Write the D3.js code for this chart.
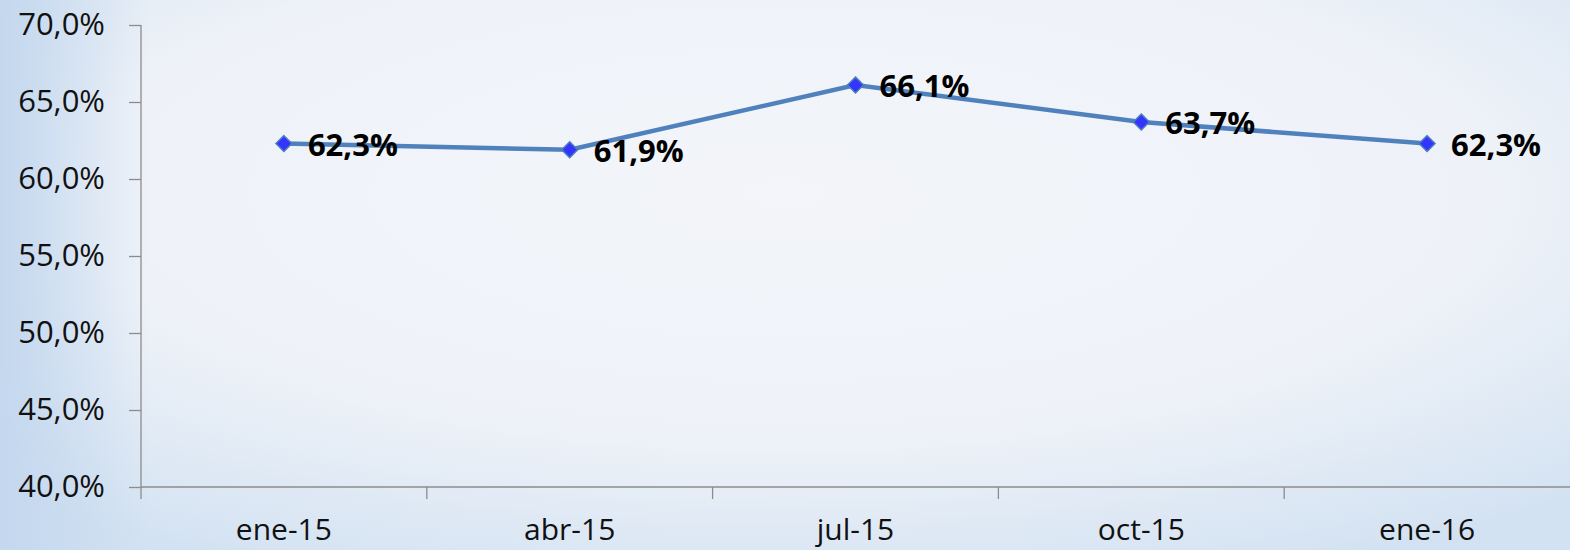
<!DOCTYPE html>
<html>
<head>
<meta charset="utf-8">
<script src="https://cdn.jsdelivr.net/npm/d3@7"></script>
<style>
  body { margin: 0; overflow: hidden; }
  svg { display: block; }
</style>
</head>
<body>
<div id="chart"></div>
<script>
// chart data
var categories = ["ene-15", "abr-15", "jul-15", "oct-15", "ene-16"];
var values = [62.3, 61.9, 66.1, 63.7, 62.3];
var yTicks = [40, 45, 50, 55, 60, 65, 70];

var W = 1570, H = 550;
var margin = { top: 25, right: 0, bottom: 63, left: 141 },
    width = W - margin.left - margin.right,
    height = H - margin.top - margin.bottom;

var svg = d3.select("#chart")
    .append("svg")
    .attr("width", W)
    .attr("height", H);

// background gradients
var defs = svg.append("defs");
var rg = defs.append("radialGradient")
    .attr("id", "bg")
    .attr("cx", "50%").attr("cy", "35%").attr("r", "75%");
rg.append("stop").attr("offset", "0%").attr("stop-color", "#f3f5fa");
rg.append("stop").attr("offset", "60%").attr("stop-color", "#eef2f8");
rg.append("stop").attr("offset", "100%").attr("stop-color", "#d3e2f2");

var lg = defs.append("linearGradient")
    .attr("id", "leftEdge")
    .attr("x1", 0).attr("x2", 1).attr("y1", 0).attr("y2", 0);
lg.append("stop").attr("offset", "0%").attr("stop-color", "#c3d7ee").attr("stop-opacity", 1);
lg.append("stop").attr("offset", "100%").attr("stop-color", "#c3d7ee").attr("stop-opacity", 0);

svg.append("rect").attr("width", W).attr("height", H).attr("fill", "url(#bg)");
svg.append("rect").attr("width", 150).attr("height", H).attr("fill", "url(#leftEdge)");

var g = svg.append("g")
    .attr("transform", "translate(" + margin.left + "," + margin.top + ")");

// scales
var x = d3.scaleBand().domain(categories).range([0, width]);
var y = d3.scaleLinear().domain([40, 70]).range([height, 0]);

var fmt = function(v) { return d3.format(".1f")(v).replace(".", ",") + "%"; };

// y axis
var yAxis = g.append("g")
    .call(d3.axisLeft(y).tickValues(yTicks).tickSize(12).tickPadding(24).tickFormat(fmt));
yAxis.selectAll("line, path").attr("stroke", "#8c8c8c").attr("stroke-width", 1.3);
yAxis.select(".domain").attr("d", "M0,0V" + height);
yAxis.selectAll("text")
    .attr("fill", "#111")
    .style("font-family", "'Open Sans', sans-serif")
    .style("font-size", "31px");

// x axis
var xAxis = g.append("g")
    .attr("transform", "translate(0," + height + ")")
    .call(d3.axisBottom(x).tickSize(0).tickPadding(32));
xAxis.select(".domain").attr("d", "M0,0H" + width).attr("stroke", "#8c8c8c").attr("stroke-width", 1.3);
xAxis.selectAll("text")
    .attr("fill", "#111")
    .style("font-family", "'Open Sans', sans-serif")
    .style("font-size", "30px");

// x ticks at band boundaries
g.append("g").selectAll("line")
    .data(categories)
    .enter().append("line")
    .attr("x1", function(d) { return x(d); })
    .attr("x2", function(d) { return x(d); })
    .attr("y1", height)
    .attr("y2", height + 12)
    .attr("stroke", "#8c8c8c")
    .attr("stroke-width", 1.3);

var data = categories.map(function(c, i) { return { cat: c, v: values[i] }; });
var cx = function(d) { return x(d.cat) + x.bandwidth() / 2; };

// the line
var line = d3.line()
    .x(cx)
    .y(function(d) { return y(d.v); });

g.append("path")
    .datum(data)
    .attr("fill", "none")
    .attr("stroke", "#4f81bd")
    .attr("stroke-width", 4.5)
    .attr("d", line);

// markers
g.selectAll(".mk")
    .data(data)
    .enter().append("path")
    .attr("class", "mk")
    .attr("d", d3.symbol().type(d3.symbolDiamond2).size(160))
    .attr("transform", function(d) { return "translate(" + cx(d) + "," + y(d.v) + ")"; })
    .attr("fill", "#3434ff")
    .attr("stroke", "#4a7ebb")
    .attr("stroke-width", 1.5);

// data labels
g.selectAll(".lbl")
    .data(data)
    .enter().append("text")
    .attr("class", "lbl")
    .attr("x", function(d) { return cx(d) + 24; })
    .attr("y", function(d) { return y(d.v) + 12; })
    .text(function(d) { return fmt(d.v); })
    .style("font-family", "'Open Sans', sans-serif")
    .style("font-weight", "bold")
    .style("font-size", "31px")
    .attr("fill", "#000");
</script>
</body>
</html>
